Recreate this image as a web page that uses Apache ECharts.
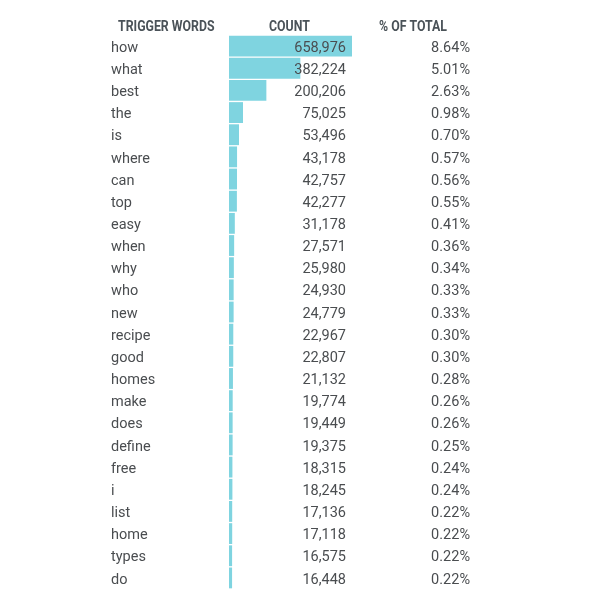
<!DOCTYPE html>
<html>
<head>
<meta charset="utf-8">
<script src="https://cdn.jsdelivr.net/npm/echarts@6/dist/echarts.min.js"></script>
<style>
  html, body { margin: 0; padding: 0; background: #fff; }
  #chart { width: 600px; height: 600px; }
</style>
</head>
<body>
<div id="chart"></div>
<script>
// trigger words and how often they show up
let words = ['how', 'what', 'best', 'the', 'is', 'where', 'can', 'top', 'easy', 'when',
  'why', 'who', 'new', 'recipe', 'good', 'homes', 'make', 'does', 'define', 'free',
  'i', 'list', 'home', 'types', 'do'];
let counts = [658976, 382224, 200206, 75025, 53496, 43178, 42757, 42277, 31178, 27571,
  25980, 24930, 24779, 22967, 22807, 21132, 19774, 19449, 19375, 18315,
  18245, 17136, 17118, 16575, 16448];
let shares = ['8.64%', '5.01%', '2.63%', '0.98%', '0.70%', '0.57%', '0.56%', '0.55%', '0.41%', '0.36%',
  '0.34%', '0.33%', '0.33%', '0.30%', '0.30%', '0.28%', '0.26%', '0.26%', '0.25%', '0.24%',
  '0.24%', '0.22%', '0.22%', '0.22%', '0.22%'];
let headers = ['TRIGGER WORDS', 'COUNT', '% OF TOTAL'];

let textColor = '#4a4d50';
let headColor = '#4a5258';
let font = 'Roboto';

let countLabels = counts.map(function (v) { return v.toLocaleString('en-US'); });

let makeAxis = function (data, extra) {
  let axis = {
    type: 'category',
    inverse: true,
    data: data,
    gridIndex: 1,
    z: 10,
    axisLine: { show: false },
    axisTick: { show: false },
    splitLine: { show: false },
    axisLabel: { color: textColor, fontFamily: font, fontSize: 14.5 }
  };
  for (let k in extra) {
    if (k === 'axisLabel') Object.assign(axis.axisLabel, extra[k]);
    else axis[k] = extra[k];
  }
  return axis;
};

// header text, squeezed a bit to look like the condensed face
let head = function (txt, x) {
  return {
    type: 'text', x: x, y: 20, scaleX: 0.88,
    style: { text: txt, fill: headColor, font: 'bold 14px Roboto' }
  };
};

let option = {
  backgroundColor: '#fff',
  animation: false,
  grid: [
    // bars
    { left: 229, top: 35, width: 241, bottom: 11, containLabel: false },
    // text columns, sit a touch lower than the bars
    { left: 229, top: 37, width: 241, bottom: 9, containLabel: false }
  ],
  xAxis: [
    { type: 'value', min: 0, max: 1291181, show: false, gridIndex: 0 },
    { type: 'value', min: 0, max: 1, show: false, gridIndex: 1 }
  ],
  yAxis: [
    { type: 'category', inverse: true, data: words, gridIndex: 0, show: false },
    makeAxis(words, { position: 'left', axisLabel: { align: 'left', margin: 118 } }),
    makeAxis(shares, { position: 'right', axisLabel: { align: 'right', margin: 0 } }),
    makeAxis(countLabels, { position: 'right', offset: -124, axisLabel: { align: 'right', margin: 0 } })
  ],
  graphic: [
    head(headers[0], 118),
    head(headers[1], 269),
    head(headers[2], 379)
  ],
  series: [{
    type: 'bar',
    data: counts,
    xAxisIndex: 0,
    yAxisIndex: 0,
    barCategoryGap: '6%',
    itemStyle: { color: '#7fd4e0' },
    z: 1
  }]
};

let mychart = echarts.init(document.getElementById('chart'));
mychart.setOption(option);
</script>
</body>
</html>
